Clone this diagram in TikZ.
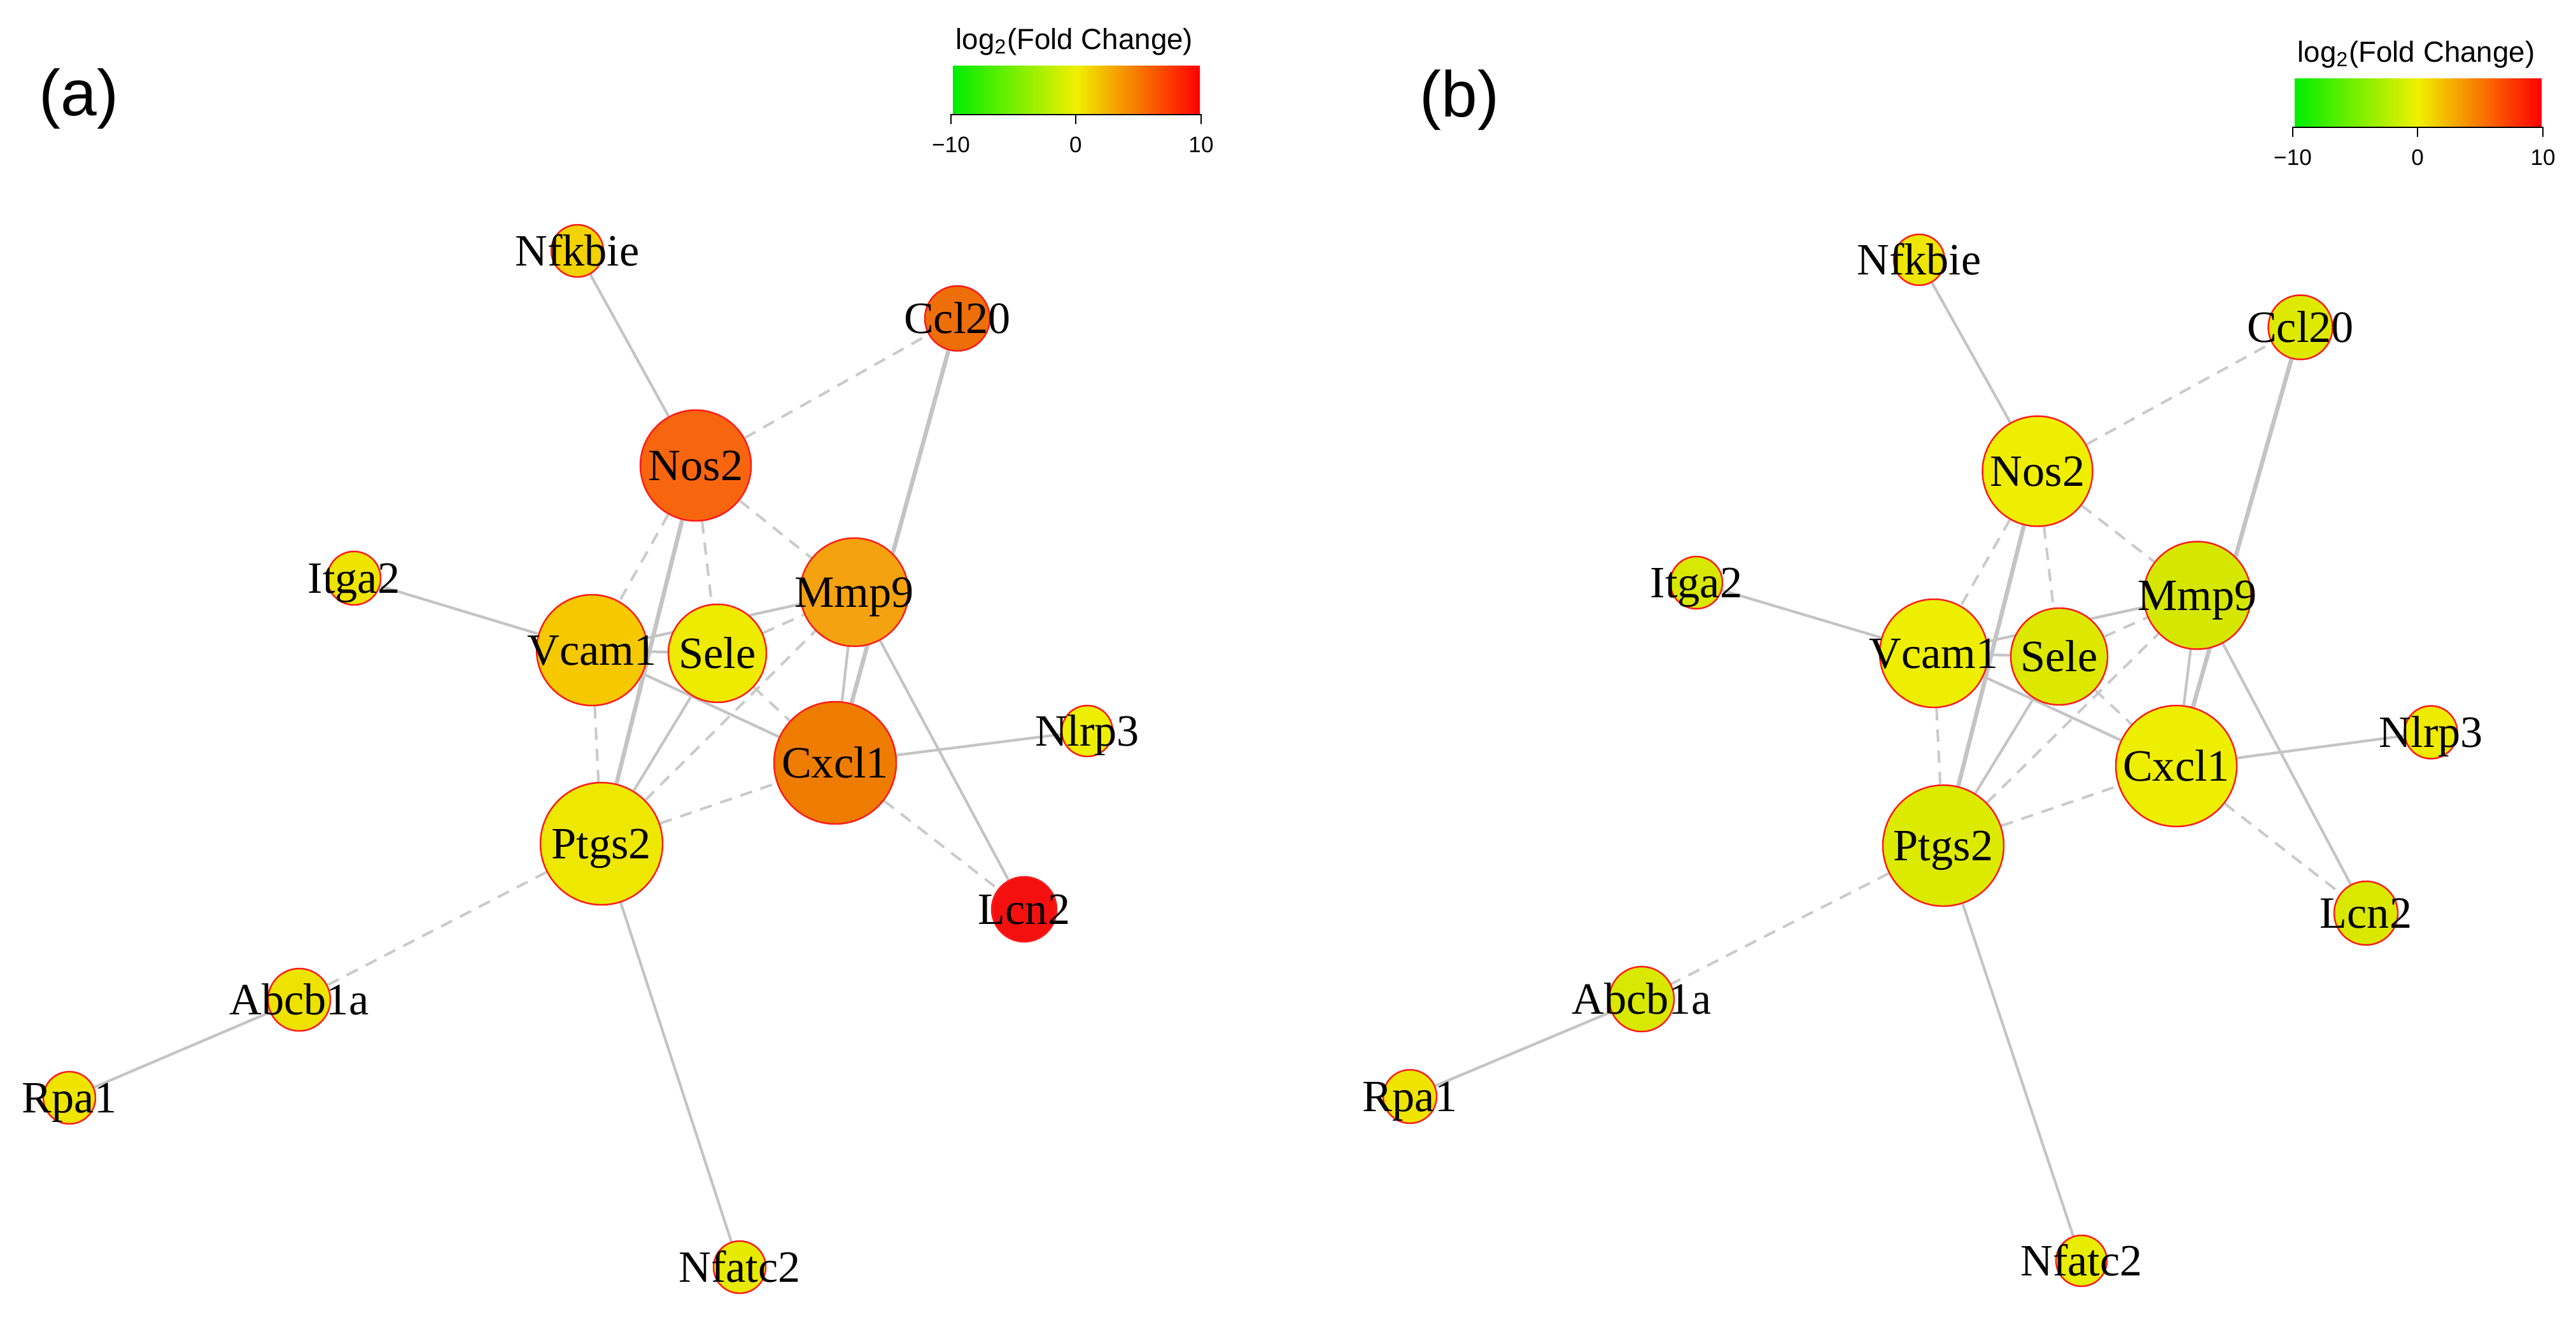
\documentclass[tikz,border=0pt]{standalone}
\usepackage{fontspec}
\setmainfont{Liberation Serif}
\setsansfont{Liberation Sans}
\usetikzlibrary{backgrounds}
\definecolor{egray}{HTML}{C4C4C4}
\definecolor{dgray}{HTML}{CACACA}
\definecolor{nred}{HTML}{FF1A1A}
\definecolor{lgreen}{HTML}{00EE00}
\definecolor{lyellow}{HTML}{F0F000}
\definecolor{lred}{HTML}{FF0000}
% panel (a) colours
\definecolor{aNfkbie}{HTML}{F2D200}
\definecolor{aCcl}{HTML}{EE6E0A}
\definecolor{aNos}{HTML}{F7650F}
\definecolor{aItga}{HTML}{EEE400}
\definecolor{aMmp}{HTML}{F5A210}
\definecolor{aVcam}{HTML}{F5C800}
\definecolor{aSele}{HTML}{EEEA00}
\definecolor{aCxcl}{HTML}{EE7C00}
\definecolor{aNlrp}{HTML}{EEEE00}
\definecolor{aPtgs}{HTML}{EEE800}
\definecolor{aLcn}{HTML}{F51010}
\definecolor{aAbcb}{HTML}{EEE200}
\definecolor{aRpa}{HTML}{EEE400}
\definecolor{aNfatc}{HTML}{E6EA00}
% panel (b) colours
\definecolor{bNfkbie}{HTML}{EEE600}
\definecolor{bCcl}{HTML}{DDEA00}
\definecolor{bNos}{HTML}{F0EE00}
\definecolor{bItga}{HTML}{D8E800}
\definecolor{bMmp}{HTML}{D5E600}
\definecolor{bVcam}{HTML}{EEEE00}
\definecolor{bSele}{HTML}{DCE800}
\definecolor{bCxcl}{HTML}{EEEE00}
\definecolor{bNlrp}{HTML}{EEEA00}
\definecolor{bPtgs}{HTML}{DCEA00}
\definecolor{bLcn}{HTML}{DAE800}
\definecolor{bAbcb}{HTML}{D8E800}
\definecolor{bRpa}{HTML}{EEE400}
\definecolor{bNfatc}{HTML}{E8EC00}
\begin{document}
\begin{tikzpicture}[
  gn/.style={circle, draw=nred, line width=0.7pt, inner sep=0pt, minimum size=#1},
  lbl/.style={anchor=base, inner sep=0pt, font=\fontsize{20}{24}\selectfont},
  thinE/.style={draw=egray, line width=1.2pt},
  thickE/.style={draw=egray, line width=1.9pt},
  dashE/.style={draw=dgray, line width=1.15pt, dash pattern=on 5.5pt off 4pt},
  panel/.style={font=\sffamily\fontsize{29}{34}\selectfont, inner sep=0pt},
  ltitle/.style={font=\sffamily\fontsize{13}{15}\selectfont, anchor=base, inner sep=0pt},
  ltick/.style={font=\sffamily\fontsize{10}{12}\selectfont, inner sep=0pt}
]
\useasboundingbox (0,0) rectangle (40.47,-20.72);

\def\nodesA{%
nfkbieA/9.07/-3.94/0.82/aNfkbie/Nfkbie,
ccltwA/15.04/-5.00/1.02/aCcl/Ccl20,
nosA/10.93/-7.31/1.74/aNos/Nos2,
itgaA/5.56/-9.08/0.84/aItga/Itga2,
mmpA/13.42/-9.30/1.70/aMmp/Mmp9,
vcamA/9.30/-10.21/1.74/aVcam/Vcam1,
seleA/11.27/-10.26/1.54/aSele/Sele,
cxclA/13.12/-11.98/1.92/aCxcl/Cxcl1,
nlrpA/17.08/-11.48/0.80/aNlrp/Nlrp3,
ptgsA/9.45/-13.25/1.92/aPtgs/Ptgs2,
lcnA/16.09/-14.28/1.02/aLcn/Lcn2,
abcbA/4.70/-15.70/0.98/aAbcb/Abcb1a,
rpaA/1.09/-17.24/0.82/aRpa/Rpa1,
nfatcA/11.62/-19.90/0.82/aNfatc/Nfatc2}
\def\nodesB{%
nfkbieB/30.15/-4.08/0.80/bNfkbie/Nfkbie,
ccltwB/36.14/-5.14/1.01/bCcl/Ccl20,
nosB/32.01/-7.40/1.73/bNos/Nos2,
itgaB/26.65/-9.15/0.82/bItga/Itga2,
mmpB/34.52/-9.35/1.69/bMmp/Mmp9,
vcamB/30.38/-10.26/1.70/bVcam/Vcam1,
seleB/32.35/-10.31/1.52/bSele/Sele,
cxclB/34.19/-12.03/1.90/bCxcl/Cxcl1,
nlrpB/38.19/-11.50/0.83/bNlrp/Nlrp3,
ptgsB/30.53/-13.28/1.90/bPtgs/Ptgs2,
lcnB/37.17/-14.34/1.00/bLcn/Lcn2,
abcbB/25.79/-15.69/1.02/bAbcb/Abcb1a,
rpaB/22.15/-17.22/0.84/bRpa/Rpa1,
nfatcB/32.70/-19.80/0.80/bNfatc/Nfatc2}

% circles
\foreach \n/\x/\y/\d/\c/\t in \nodesA {\node[gn=\d cm, fill=\c] (\n) at (\x,\y) {};}
\foreach \n/\x/\y/\d/\c/\t in \nodesB {\node[gn=\d cm, fill=\c] (\n) at (\x,\y) {};}
% labels
\foreach \n/\x/\y/\d/\c/\t in \nodesA {\node[lbl] (\n-t) at (\x,\y-0.235) {\t};}
\foreach \n/\x/\y/\d/\c/\t in \nodesB {\node[lbl] (\n-t) at (\x,\y-0.235) {\t};}

% edges
\begin{pgfonlayer}{background}
\foreach \p in {A,B} {
  \foreach \u/\v in {nfkbie/nos, mmp/cxcl, itga/vcam, vcam/sele, vcam/mmp, vcam/cxcl,
                     ptgs/sele, mmp/lcn, cxcl/nlrp, rpa/abcb, ptgs/nfatc}
    \draw[thinE] (\u\p) -- (\v\p);
  \foreach \u/\v in {ccltw/cxcl, nos/ptgs}
    \draw[thickE] (\u\p) -- (\v\p);
  \foreach \u/\v in {nos/ccltw, nos/mmp, nos/sele, nos/vcam, vcam/ptgs, sele/mmp,
                     ptgs/mmp, sele/cxcl, ptgs/cxcl, cxcl/lcn, ptgs/abcb}
    \draw[dashE] (\u\p) -- (\v\p);
}
\end{pgfonlayer}

% panel labels
\node[panel] (pa) at (1.24,-1.55) {(a)};
\node[panel] (pb) at (22.93,-1.57) {(b)};

% legends
\foreach \p/\dx/\dy in {A/0/0, B/21.08/-0.20} {
  \begin{scope}[shift={(\dx,\dy)}]
    \node[ltitle] (title\p) at (16.88,-0.77) {log\textsubscript{2}(Fold Change)};
    \shade[left color=lgreen, right color=lred, middle color=lyellow]
      (14.97,-1.03) rectangle (18.85,-1.80);
    \draw[line width=0.8pt] (14.94,-1.95) -- (14.94,-1.80) -- (18.87,-1.80) -- (18.87,-1.95);
    \draw[line width=0.8pt] (16.90,-1.80) -- (16.90,-1.95);
    \node[ltick] (tm\p) at (14.94,-2.27) {−10};
    \node[ltick] (tz\p) at (16.90,-2.27) {0};
    \node[ltick] (tp\p) at (18.87,-2.27) {10};
  \end{scope}
}
\end{tikzpicture}
\end{document}
